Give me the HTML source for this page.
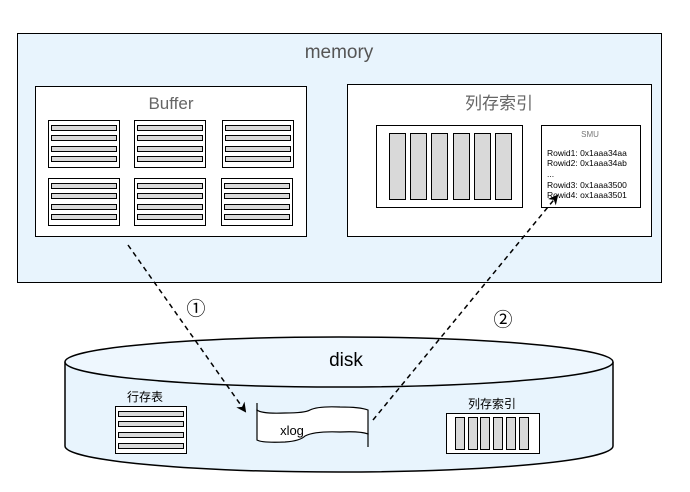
<!DOCTYPE html>
<html><head><meta charset="utf-8"><style>
html,body{margin:0;padding:0;background:#fff;}
svg{display:block;font-family:"Liberation Sans","Noto Sans CJK SC",sans-serif;}
</style></head><body>
<svg width="690" height="492" viewBox="0 0 690 492" xmlns="http://www.w3.org/2000/svg">
<defs>
<marker id="ah" markerWidth="10" markerHeight="10" refX="8" refY="5" orient="auto" markerUnits="userSpaceOnUse">
<path d="M0,0 L10,5 L0,10 L3,5 Z" fill="#000"/>
</marker>
<g id="pg">
<rect x="0" y="0" width="71" height="47" fill="#fff" stroke="#000" stroke-width="1"/>
<rect x="3" y="5" width="65" height="5" fill="#d9d9d9" stroke="#000" stroke-width="1"/>
<rect x="3" y="15" width="65" height="5" fill="#d9d9d9" stroke="#000" stroke-width="1"/>
<rect x="3" y="26" width="65" height="5" fill="#d9d9d9" stroke="#000" stroke-width="1"/>
<rect x="3" y="36" width="65" height="5" fill="#d9d9d9" stroke="#000" stroke-width="1"/>
</g>
</defs>
<rect x="17.5" y="33.5" width="644" height="249" fill="#e8f4fd" stroke="#000"/>
<text x="339" y="58" font-size="19" fill="#555" text-anchor="middle">memory</text>
<rect x="35.5" y="86.5" width="271" height="150" fill="#fff" stroke="#000"/>
<text x="171" y="109" font-size="17" fill="#666" text-anchor="middle">Buffer</text>
<use href="#pg" x="48.5" y="120.5"/>
<use href="#pg" x="134.5" y="120.5"/>
<use href="#pg" x="222.5" y="120.5"/>
<use href="#pg" x="48.5" y="178.5"/>
<use href="#pg" x="134.5" y="178.5"/>
<use href="#pg" x="221.5" y="178.5"/>
<rect x="347.5" y="84.5" width="304" height="152" fill="#fff" stroke="#000"/>
<text x="499" y="109" font-size="17" fill="#666" text-anchor="middle">列存索引</text>
<rect x="376.5" y="125.5" width="146" height="82" fill="#fff" stroke="#000"/>
<g fill="#d9d9d9" stroke="#000">
<rect x="389.5" y="133.5" width="16" height="66"/>
<rect x="410.5" y="133.5" width="16" height="66"/>
<rect x="431.5" y="133.5" width="16" height="66"/>
<rect x="453.5" y="133.5" width="16" height="66"/>
<rect x="474.5" y="133.5" width="16" height="66"/>
<rect x="495.5" y="133.5" width="16" height="66"/>
</g>
<rect x="541.5" y="125.5" width="99" height="82" fill="#fff" stroke="#000"/>
<g font-size="8.5" fill="#000">
<text x="590" y="137" fill="#777" text-anchor="middle" font-size="8">SMU</text>
<text x="547" y="156">Rowid1: 0x1aaa34aa</text>
<text x="547" y="166">Rowid2: 0x1aaa34ab</text>
<text x="547" y="177">...</text>
<text x="547" y="188">Rowid3: 0x1aaa3500</text>
<text x="547" y="198">Rowid4: ox1aaa3501</text>
</g>
<path d="M65,362 L65,446 A274,26 0 0 0 613,446 L613,362" fill="#e8f4fd" stroke="#000" stroke-width="1.5"/>
<ellipse cx="339" cy="362" rx="274" ry="25" fill="#eef7fe" stroke="#000" stroke-width="1.5"/>
<text x="346" y="366" font-size="19" fill="#000" text-anchor="middle">disk</text>
<text x="145" y="401" font-size="12" text-anchor="middle">行存表</text>
<rect x="115.5" y="406.5" width="71" height="47" fill="#fff" stroke="#000"/>
<g fill="#d9d9d9" stroke="#000">
<rect x="118.5" y="411.5" width="65" height="5"/>
<rect x="118.5" y="421.5" width="65" height="5"/>
<rect x="118.5" y="432.5" width="65" height="5"/>
<rect x="118.5" y="443.5" width="65" height="5"/>
</g>
<path d="M257,410 Q262,414 285,413 Q305,413 310,410 Q318,406 340,407 Q360,407 368,410 L368,434 Q360,431 340,432 Q315,431 305,436 Q300,441 285,442 Q262,443 257,440 Z" fill="#fff" stroke="#000" stroke-width="1.2"/>
<line x1="257" y1="403" x2="257" y2="411" stroke="#000" stroke-width="1.2"/>
<line x1="368" y1="433" x2="368" y2="447" stroke="#000" stroke-width="1.2"/>
<text x="292" y="435" font-size="13" text-anchor="middle">xlog</text>
<text x="492" y="408" font-size="12" text-anchor="middle">列存索引</text>
<rect x="446.5" y="413.5" width="93" height="40" fill="#fff" stroke="#000"/>
<g fill="#d9d9d9" stroke="#000">
<rect x="455.5" y="417.5" width="9" height="32"/>
<rect x="468.5" y="417.5" width="9" height="32"/>
<rect x="480.5" y="417.5" width="9" height="32"/>
<rect x="493.5" y="417.5" width="9" height="32"/>
<rect x="506.5" y="417.5" width="9" height="32"/>
<rect x="519.5" y="417.5" width="9" height="32"/>
</g>
<line x1="128" y1="245" x2="245" y2="411" stroke="#000" stroke-width="1.5" stroke-dasharray="5,4" marker-end="url(#ah)"/>
<line x1="373" y1="420" x2="557" y2="196" stroke="#000" stroke-width="1.5" stroke-dasharray="5,4" marker-end="url(#ah)"/>
<text x="196" y="315" font-size="19" text-anchor="middle">①</text>
<text x="503" y="326" font-size="19" text-anchor="middle">②</text>
</svg>
</body></html>
